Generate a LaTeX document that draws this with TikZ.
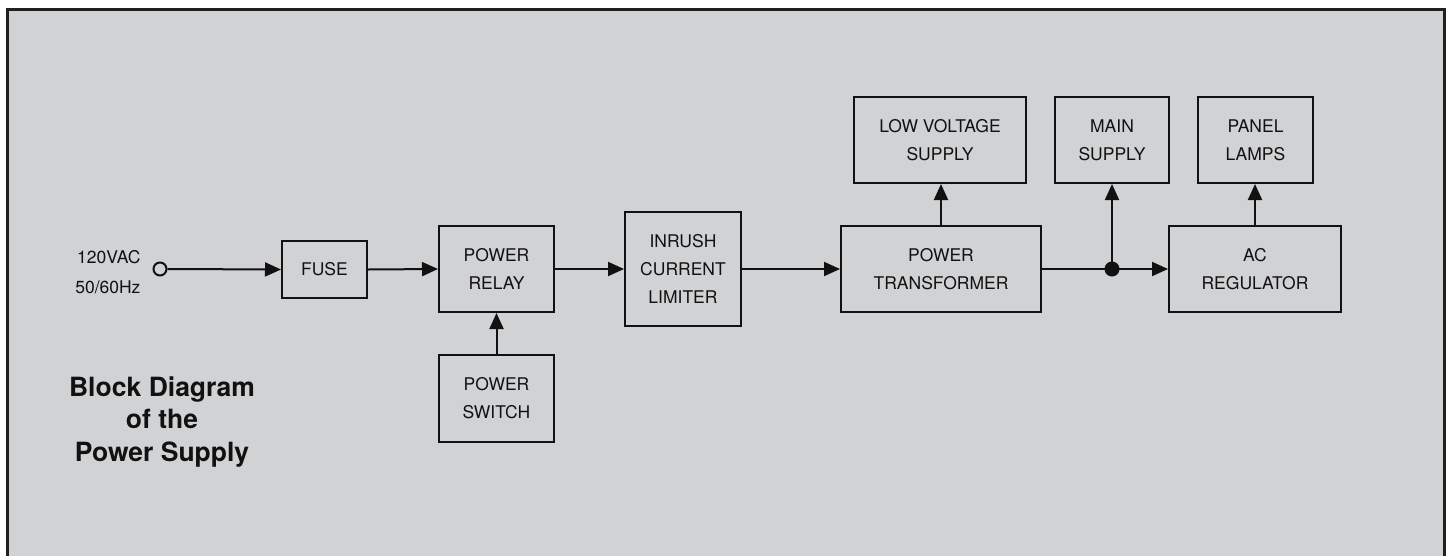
\documentclass[tikz,border=0pt]{standalone}
\usepackage{fontspec}
\setmainfont{TeX Gyre Heros}
\usetikzlibrary{arrows.meta}
\definecolor{bg}{HTML}{D1D2D4}
\definecolor{ink}{HTML}{111111}
\definecolor{framec}{HTML}{231F20}
\tikzset{
  blk/.style={draw=ink, line width=2pt, rectangle, inner sep=0pt, align=center,
    text=ink, font=\fontsize{17.5}{28}\selectfont},
  conn/.style={draw=ink, line width=2pt},
  arr/.style={conn, -{Triangle[length=16pt,width=14pt]}},
}
\begin{document}
\begin{tikzpicture}[x=1pt,y=-1pt]
\useasboundingbox (0,0) rectangle (1449,555);
\fill[white] (0,0) rectangle (1449,555);
\draw[framec, fill=bg, line width=3pt] (7.5,9) rectangle (1444.5,570);

\node[blk, minimum width=85, minimum height=57] (fuse) at (324.5,269.5) {FUSE};
\node[blk, minimum width=115, minimum height=86] (relay) at (496.5,269) {POWER\\RELAY};
\node[blk, minimum width=115, minimum height=87] (switch) at (496.5,398.5) {POWER\\SWITCH};
\node[blk, minimum width=116, minimum height=114] (inrush) at (683,269) {INRUSH\\CURRENT\\LIMITER};
\node[blk, minimum width=200, minimum height=86] (xfmr) at (941,269) {POWER\\TRANSFORMER};
\node[blk, minimum width=172, minimum height=86] (lv) at (940,140) {LOW VOLTAGE\\SUPPLY};
\node[blk, minimum width=114, minimum height=86] (main) at (1112,140) {MAIN\\SUPPLY};
\node[blk, minimum width=115, minimum height=86] (lamps) at (1255.5,140) {PANEL\\LAMPS};
\node[blk, minimum width=172, minimum height=86] (acreg) at (1255,269) {AC\\REGULATOR};

\node[circle, draw=ink, line width=2pt, minimum size=13, inner sep=0pt] (in) at (160,269) {};
\node[circle, fill=ink, minimum size=15, inner sep=0pt] (j) at (1112,269) {};

\node[anchor=east, align=right, text=ink, font=\fontsize{17.5}{30}\selectfont] (inlbl) at (144,272) {120VAC\\50/60Hz};

\node[align=center, text=ink, font=\bfseries\fontsize{26.5}{32.5}\selectfont] (title) at (162,422) {Block Diagram\\of the\\Power Supply};

\draw[arr] (in.east) -- (fuse.west);
\draw[arr] (fuse.east) -- (relay.west);
\draw[arr] (relay.east) -- (inrush.west);
\draw[arr] (inrush.east) -- (xfmr.west);
\draw[conn] (xfmr.east) -- (j.center);
\draw[arr] (j.center) -- (acreg.west);
\draw[arr] (j.center) -- (main.south);
\draw[arr] (switch.north) -- (relay.south);
\draw[arr] (xfmr.north) -- (xfmr.north |- lv.south);
\draw[arr] (acreg.north) -- (acreg.north |- lamps.south);
\end{tikzpicture}
\end{document}
